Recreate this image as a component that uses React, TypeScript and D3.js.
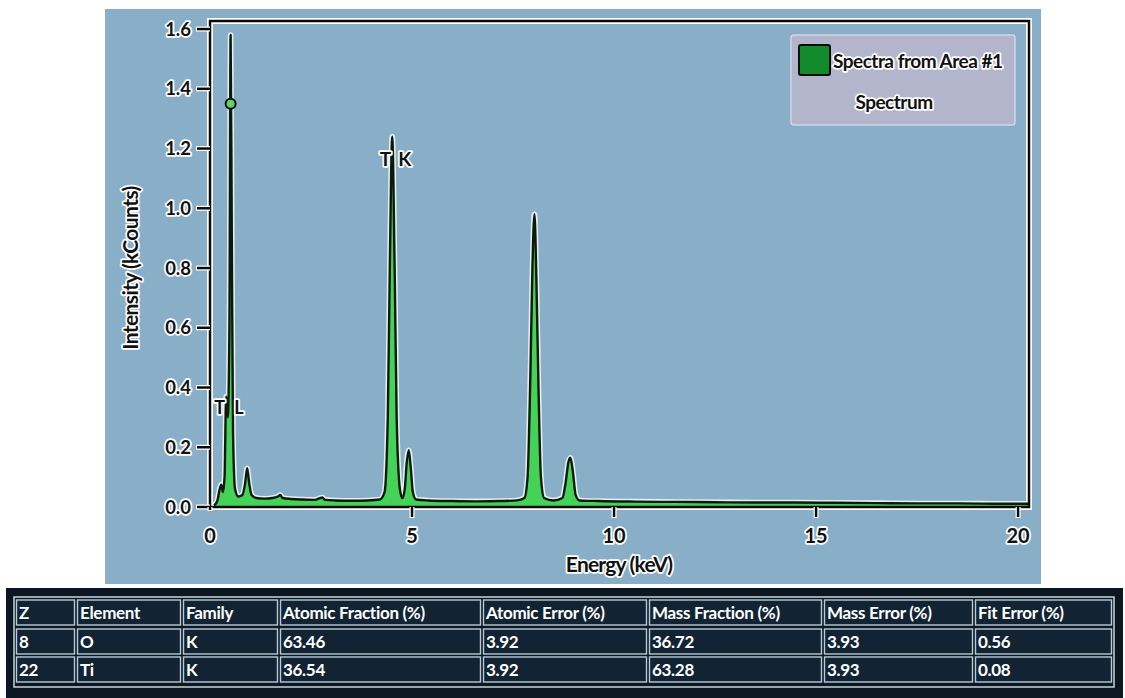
import React from "react";
import * as d3 from "d3";

// Spectrum (energy keV, intensity kCounts)
const energy = [
  0.1, 0.18, 0.24, 0.28, 0.32, 0.36, 0.4, 0.44, 0.48, 0.51, 0.54, 0.57, 0.62, 0.7, 0.8, 0.87, 0.92, 0.97,
  1.03, 1.15, 1.35, 1.55, 1.68, 1.74, 1.8, 2.0, 2.3, 2.6, 2.72, 2.78, 2.85, 3.1, 3.5, 3.9, 4.2, 4.32, 4.4,
  4.45, 4.51, 4.57, 4.62, 4.7, 4.76, 4.82, 4.87, 4.92, 4.97, 5.02, 5.1, 5.4, 6.0, 6.6, 7.2, 7.6, 7.78, 7.86,
  7.93, 7.98, 8.03, 8.08, 8.13, 8.19, 8.27, 8.5, 8.72, 8.8, 8.87, 8.92, 8.98, 9.05, 9.15, 9.6, 10.5, 11.5,
  12.5, 13.5, 14.5, 15.5, 16.5, 17.5, 18.5, 19.5, 20.27,
];
const counts = [
  0.005, 0.02, 0.06, 0.075, 0.05, 0.1, 0.37, 0.3, 0.6, 1.58, 0.9, 0.25, 0.06, 0.035, 0.04, 0.08, 0.13, 0.08,
  0.04, 0.03, 0.028, 0.03, 0.035, 0.04, 0.03, 0.027, 0.025, 0.024, 0.03, 0.032, 0.024, 0.022, 0.021, 0.022,
  0.025, 0.05, 0.3, 0.8, 1.24, 0.8, 0.3, 0.06, 0.03, 0.06, 0.15, 0.19, 0.13, 0.05, 0.025, 0.022, 0.02, 0.019,
  0.02, 0.022, 0.03, 0.1, 0.45, 0.8, 0.98, 0.75, 0.4, 0.1, 0.03, 0.022, 0.03, 0.08, 0.15, 0.165, 0.12, 0.04,
  0.022, 0.02, 0.018, 0.017, 0.016, 0.015, 0.015, 0.014, 0.013, 0.012, 0.012, 0.011, 0.011,
];
const xTicks = [0, 5, 10, 15, 20];
const yTicks = [0, 0.2, 0.4, 0.6, 0.8, 1.0, 1.2, 1.4, 1.6];
const markerO = { energy: 0.51, value: 1.35 };
const labelTiK = { energy: 4.51, value: 1.14, text: ["T", "K"] };
const labelTiL = { energy: 0.45, value: 0.31, text: ["T", "L"] };
const legendTitle = "Spectra from Area #1";
const legendSub = "Spectrum";

const tableHeaders = ["Z", "Element", "Family", "Atomic Fraction (%)", "Atomic Error (%)", "Mass Fraction (%)", "Mass Error (%)", "Fit Error (%)"];
const rowO = ["8", "O", "K", "63.46", "3.92", "36.72", "3.93", "0.56"];
const rowTi = ["22", "Ti", "K", "36.54", "3.92", "63.28", "3.93", "0.08"];
const colEdges = [15, 76, 182, 279, 482, 648, 823, 974, 1113];

const FONT = "Lato, 'Open Sans', sans-serif";
const halo: React.CSSProperties = {
  stroke: "#ffffff",
  strokeWidth: 3.5,
  paintOrder: "stroke",
  strokeLinejoin: "round",
  fill: "#111111",
  fontWeight: 700,
  fontFamily: FONT,
};

export default function App() {
  const W = 1125;
  const H = 698;
  const x = d3.scaleLinear().domain([0, 20.27]).range([210, 1029]);
  const y = d3.scaleLinear().domain([0, 1.627]).range([507, 21]);
  const pts: [number, number][] = energy.map((e, i) => [e, counts[i]]);
  const line = d3
    .line<[number, number]>()
    .x((d) => x(d[0]))
    .y((d) => y(d[1]))
    .curve(d3.curveMonotoneX);
  const area = d3
    .area<[number, number]>()
    .x((d) => x(d[0]))
    .y0(y(0))
    .y1((d) => y(d[1]))
    .curve(d3.curveMonotoneX);
  const [x0, x1] = x.range();
  const [yb, yt] = y.range();

  const rows = [tableHeaders, rowO, rowTi];
  const rowTops = [600, 629, 657];
  const rowH = 25;

  return (
    <svg
      width={W}
      height={H}
      style={{ position: "fixed", left: 0, top: 0, display: "block", background: "#ffffff" }}
    >
      <defs>
        <clipPath id="plot">
          <rect x={x0} y={yt} width={x1 - x0} height={yb - yt} />
        </clipPath>
      </defs>
      {/* panel */}
      <rect x={105} y={9} width={936} height={575} fill="#88aec8" />

      {/* frame */}
      <rect x={x0} y={yt} width={x1 - x0} height={yb - yt} fill="none" stroke="#ffffff" strokeWidth={6} />

      {/* spectrum */}
      <g clipPath="url(#plot)">
        <path d={line(pts) || ""} fill="none" stroke="#ffffff" strokeWidth={5.5} strokeOpacity={0.8} strokeLinejoin="round" />
        <path d={area(pts) || ""} fill="#45d258" />
        <path d={line(pts) || ""} fill="none" stroke="#0c1a0c" strokeWidth={2.4} strokeLinejoin="round" />
      </g>

      <rect x={x0} y={yt} width={x1 - x0} height={yb - yt} fill="none" stroke="#0a0a0a" strokeWidth={2.5} />

      {/* y axis */}
      {yTicks.map((t) => (
        <g key={"y" + t}>
          <line x1={x0 - 14} x2={x0} y1={y(t)} y2={y(t)} stroke="#ffffff" strokeWidth={5} />
          <line x1={x0 - 13} x2={x0} y1={y(t)} y2={y(t)} stroke="#0a0a0a" strokeWidth={2.5} />
          <text x={x0 - 19} y={y(t)} dy="0.36em" textAnchor="end" fontSize={18.5} style={halo}>
            {t.toFixed(1)}
          </text>
        </g>
      ))}
      {/* x axis */}
      {xTicks.map((t) => (
        <g key={"x" + t}>
          <line x1={x(t)} x2={x(t)} y1={yb} y2={yb + (t === 0 ? 4 : 11)} stroke="#ffffff" strokeWidth={5} />
          <line x1={x(t)} x2={x(t)} y1={yb} y2={yb + (t === 0 ? 3 : 10)} stroke="#0a0a0a" strokeWidth={2.5} />
          <text x={x(t)} y={yb + 36} textAnchor="middle" fontSize={20} style={halo}>
            {t}
          </text>
        </g>
      ))}
      <text x={619} y={572} textAnchor="middle" fontSize={21} style={{ ...halo, letterSpacing: -0.8 }}>
        Energy (keV)
      </text>
      <text
        transform={`translate(138,${268}) rotate(-90)`}
        textAnchor="middle"
        fontSize={21}
        style={{ ...halo, letterSpacing: -0.6 }}
      >
        Intensity (kCounts)
      </text>

      {/* peak labels */}
      <text y={y(labelTiK.value)} fontSize={19} style={halo}>
        <tspan x={x(labelTiK.energy) - 1} textAnchor="end">{labelTiK.text[0]}</tspan>
        <tspan x={x(labelTiK.energy) + 6} textAnchor="start">{labelTiK.text[1]}</tspan>
      </text>
      <text y={y(labelTiL.value)} fontSize={18} style={halo}>
        <tspan x={x(labelTiL.energy) - 3} textAnchor="end">{labelTiL.text[0]}</tspan>
        <tspan x={x(labelTiL.energy) + 6} textAnchor="start">{labelTiL.text[1]}</tspan>
      </text>
      <circle cx={x(markerO.energy)} cy={y(markerO.value)} r={5} fill="#5fd36a" stroke="#0a0a0a" strokeWidth={2} />

      {/* legend */}
      <rect x={791} y={35} width={224} height={90} rx={3} fill="#b3b5cd" stroke="#d2d6e6" strokeWidth={1.5} />
      <rect x={799} y={45} width={31} height={30} rx={2} fill="#138a2c" stroke="#0a0a0a" strokeWidth={2} />
      <text x={833} y={68} fontSize={19} style={{ ...halo, letterSpacing: -0.5 }}>
        {legendTitle}
      </text>
      <text x={894} y={109} textAnchor="middle" fontSize={19} style={{ ...halo, letterSpacing: -0.5 }}>
        {legendSub}
      </text>

      {/* table */}
      <rect x={6} y={588} width={1117} height={110} fill="#0b1823" />
      <rect x={14} y={597} width={1100} height={90} fill="none" stroke="#c6d4de" strokeWidth={1.5} />
      {rows.map((r, ri) =>
        r.map((cell, ci) => {
          const left = colEdges[ci];
          const right = colEdges[ci + 1];
          const top = rowTops[ri];
          return (
            <g key={ri + "-" + ci}>
              <rect
                x={left + 1.5}
                y={top}
                width={right - left - 3}
                height={rowH}
                fill="#122434"
                stroke="#b9cad6"
                strokeWidth={1.4}
              />
              <text
                x={left + 4}
                y={top + rowH / 2}
                dy="0.36em"
                fontSize={17}
                fill="#ffffff"
                fontWeight={700}
                fontFamily={FONT}
                letterSpacing={-0.3}
              >
                {cell}
              </text>
            </g>
          );
        })
      )}
    </svg>
  );
}
